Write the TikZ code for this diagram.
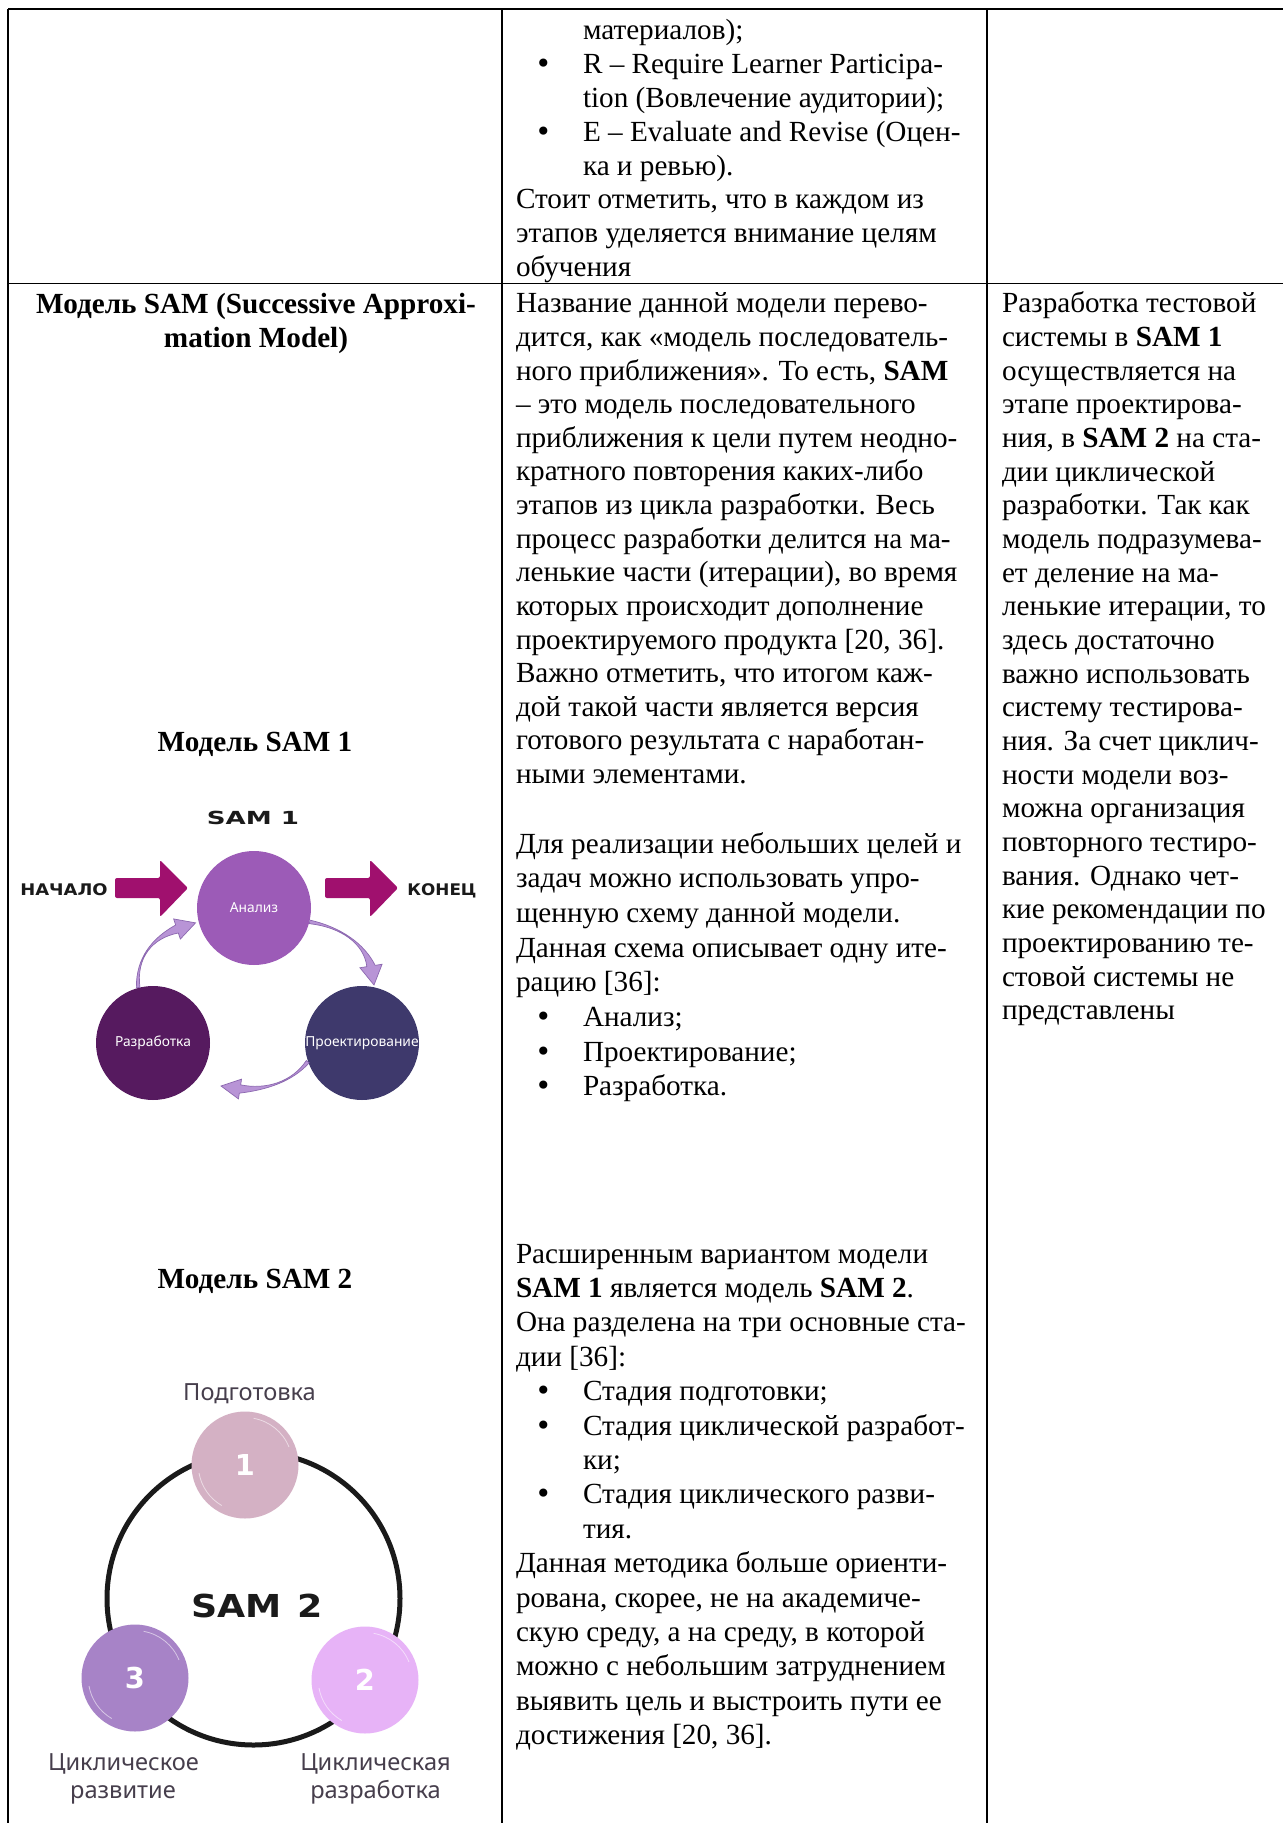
\documentclass[tikz,border=0pt]{standalone}
\usepackage{fontspec}
\usepackage{graphicx}
\setmainfont{Liberation Serif}
\newfontfamily\blockfont{DejaVu Sans}
\newfontfamily\roundfont{Noto Sans}
\usetikzlibrary{calc}

\definecolor{ink}{HTML}{1A1A1A}
\definecolor{arrowmag}{HTML}{A0106E}
\definecolor{anal}{HTML}{9C5BB7}
\definecolor{design}{HTML}{3E396C}
\definecolor{devel}{HTML}{561A5F}
\definecolor{cyclefill}{HTML}{B894D6}
\definecolor{cycleedge}{HTML}{8C68B0}
\definecolor{prep}{HTML}{D4B1C4}
\definecolor{cycdev}{HTML}{E7B3F7}
\definecolor{cycgrow}{HTML}{A783C7}
\definecolor{lbl}{HTML}{463E4C}

% body text size and list helpers
\newcommand\bodysize{\fontsize{14.6pt}{16.8pt}\selectfont}
\newcommand\blt{\makebox[33.5pt][l]{\hspace*{9.5pt}{\blockfont\fontsize{14pt}{14pt}\selectfont\textbullet}}}
\newcommand\ind{\hspace*{33.5pt}}

% tapered curved arrow: tail, control 1, control 2, head base, tip, half shaft, half head
\newcommand\taperarrow[7]{%
  \path[cyclearrow]
    ($(#1)!0.9pt!90:(#2)$) .. controls (#2) and (#3) .. ($(#4)!#6!90:(#5)$)
    -- ($(#4)!#7!90:(#5)$) -- (#5) -- ($(#4)!#7!-90:(#5)$) -- ($(#4)!#6!-90:(#5)$)
    .. controls (#3) and (#2) .. ($(#1)!0.9pt!-90:(#2)$) -- cycle;
}

\begin{document}
\begin{tikzpicture}[x=0.5pt,y=-0.5pt,
  rule/.style={line width=0.9pt, draw=black},
  txt/.style={anchor=base west, inner sep=0pt, outer sep=0pt, font=\bodysize, text=black},
  head/.style={anchor=base, inner sep=0pt, font=\bodysize\bfseries, text=black},
  blk/.style={anchor=base, inner sep=0pt, text=ink},
  phase/.style={circle, inner sep=0pt, minimum size=57pt, text=white,
    font=\roundfont\fontsize{6.9pt}{8pt}\selectfont},
  magarrow/.style={fill=arrowmag, rounded corners=1pt},
  cyclearrow/.style={fill=cyclefill, draw=cycleedge, line width=0.35pt},
  stage/.style={circle, inner sep=0pt, minimum size=53.5pt, text=white,
    font=\blockfont\bfseries\fontsize{14.4pt}{16pt}\selectfont},
  brush/.style={draw=white, opacity=0.55, line width=0.4pt},
  stagelbl/.style={anchor=base, inner sep=0pt, text=lbl,
    font=\roundfont\fontsize{11.8pt}{14pt}\selectfont},
  ring/.style={circle, draw=ink, line width=2.5pt, minimum size=146.5pt, inner sep=0pt},
]
\useasboundingbox (0,0) rectangle (1283,1823);
\fill[white] (0,0) rectangle (1283,1823);

% ---------- table rules ----------
\draw[rule] (8,9) -- (1283,9);
\draw[rule] (8,283.5) -- (1283,283.5);
\draw[rule] (8,9) -- (8,1823);
\draw[rule] (502,9) -- (502,1823);
\draw[rule] (987,9) -- (987,1823);

% ---------- upper row, middle column ----------
\foreach \linetext [count=\idx from 0] in {
  {\ind материалов);},
  {\blt R – Require Learner Participa-},
  {\ind tion (Вовлечение аудитории);},
  {\blt E – Evaluate and Revise (Оцен-},
  {\ind ка и ревью).},
  {Стоит отметить, что в каждом из},
  {этапов уделяется внимание целям},
  {обучения}}
  {\node[txt] (top-\idx) at (516, 40+33.8*\idx) {\linetext};}

% ---------- SAM row: left column headings ----------
\node[head] (h1) at (256,314) {Модель SAM (Successive Approxi-};
\node[head] (h2) at (256,348) {mation Model)};
\node[head] (h3) at (255,751) {Модель SAM 1};
\node[head] (h4) at (255,1288) {Модель SAM 2};

% ---------- SAM row: middle column ----------
\foreach \linetext [count=\idx from 0] in {
  {Название данной модели перево-},
  {дится, как «модель последователь-},
  {ного приближения». То есть, \textbf{SAM}},
  {– это модель последовательного},
  {приближения к цели путем неодно-},
  {кратного повторения каких-либо},
  {этапов из цикла разработки. Весь},
  {процесс разработки делится на ма-},
  {ленькие части (итерации), во время},
  {которых происходит дополнение},
  {проектируемого продукта [20, 36].},
  {Важно отметить, что итогом каж-},
  {дой такой части является версия},
  {готового результата с наработан-},
  {ными элементами.}}
  {\node[txt] (pa-\idx) at (516, 313+33.6*\idx) {\linetext};}

\foreach \linetext [count=\idx from 0] in {
  {Для реализации небольших целей и},
  {задач можно использовать упро-},
  {щенную схему данной модели.},
  {Данная схема описывает одну ите-},
  {рацию [36]:},
  {\blt Анализ;},
  {\blt Проектирование;},
  {\blt Разработка.}}
  {\node[txt] (pb-\idx) at (516, 853+34.7*\idx) {\linetext};}

\foreach \linetext [count=\idx from 0] in {
  {Расширенным вариантом модели},
  {\textbf{SAM 1} является модель \textbf{SAM 2}.},
  {Она разделена на три основные ста-},
  {дии [36]:},
  {\blt Стадия подготовки;},
  {\blt Стадия циклической разработ-},
  {\ind ки;},
  {\blt Стадия циклического разви-},
  {\ind тия.},
  {Данная методика больше ориенти-},
  {рована, скорее, не на академиче-},
  {скую среду, а на среду, в которой},
  {можно с небольшим затруднением},
  {выявить цель и выстроить пути ее},
  {достижения [20, 36].}}
  {\node[txt] (pc-\idx) at (516, 1263+34.4*\idx) {\linetext};}

% ---------- SAM row: right column ----------
\foreach \linetext [count=\idx from 0] in {
  {Разработка тестовой},
  {системы в \textbf{SAM 1}},
  {осуществляется на},
  {этапе проектирова-},
  {ния, в \textbf{SAM 2} на ста-},
  {дии циклической},
  {разработки. Так как},
  {модель подразумева-},
  {ет деление на ма-},
  {ленькие итерации, то},
  {здесь достаточно},
  {важно использовать},
  {систему тестирова-},
  {ния. За счет циклич-},
  {ности модели воз-},
  {можна организация},
  {повторного тестиро-},
  {вания. Однако чет-},
  {кие рекомендации по},
  {проектированию те-},
  {стовой системы не},
  {представлены}}
  {\node[txt] (pr-\idx) at (1002, 313+33.66*\idx) {\linetext};}

% ---------- SAM 1 cycle ----------
\node[blk, font=\blockfont\bfseries\fontsize{9pt}{10pt}\selectfont] (samone) at (253,824)
  {\scalebox{1.45}[1]{SAM 1}};
\node[blk, font=\blockfont\bfseries\fontsize{8pt}{9pt}\selectfont] (beg) at (64,895)
  {\scalebox{1.12}[1]{НАЧАЛО}};
\node[blk, font=\blockfont\bfseries\fontsize{8pt}{9pt}\selectfont] (fin) at (442,895)
  {\scalebox{1.05}[1]{КОНЕЦ}};

\path[magarrow] (115,878) -- (160,878) -- (160,860) -- (188,888) -- (160,917)
  -- (160,898) -- (115,898) -- cycle;
\path[magarrow] (325,878) -- (370,878) -- (370,860) -- (398,888) -- (370,917)
  -- (370,898) -- (325,898) -- cycle;

\node[phase, fill=anal] (an) at (254,908) {Анализ};
\node[phase, fill=design] (prj) at (362,1043) {Проектирование};
\node[phase, fill=devel] (dev) at (153,1043) {Разработка};

% development -> analysis
\coordinate (aT) at (dev.105);
\coordinate (aA) at (136,958);
\coordinate (aB) at (152,938);
\coordinate (aH) at (177,929);
\coordinate (aP) at ($(an.195)+(-3,0)$);
\taperarrow{aT}{aA}{aB}{aH}{aP}{2.1pt}{5.3pt}
% analysis -> design
\coordinate (bT) at (an.346);
\coordinate (bA) at (340,927);
\coordinate (bB) at (364,943);
\coordinate (bH) at (371,966);
\coordinate (bP) at (374,985);
\taperarrow{bT}{bA}{bB}{bH}{bP}{2.1pt}{5.6pt}
% design -> development
\coordinate (cT) at (prj.199);
\coordinate (cA) at (292,1082);
\coordinate (cB) at (266,1090);
\coordinate (cH) at (240,1089);
\coordinate (cP) at (221,1086);
\taperarrow{cT}{cA}{cB}{cH}{cP}{2.1pt}{5pt}

% ---------- SAM 2 cycle ----------
\node[ring] (ring) at (253.5,1598.5) {};
\node[stage, fill=prep] (s1) at (245,1465) {1};
\node[stage, fill=cycdev] (s2) at (365,1680) {2};
\node[stage, fill=cycgrow] (s3) at (135,1678) {3};
\foreach \s in {s1,s2,s3}{
  \draw[brush] ($(\s.center)+(44,-18)$) arc[start angle=-22, end angle=-80, radius=47];
  \draw[brush] ($(\s.center)+(-46,8)$) arc[start angle=170, end angle=120, radius=47];
}
\node[blk, font=\blockfont\bfseries\fontsize{15.8pt}{17pt}\selectfont] (samtwo) at (257,1617)
  {\scalebox{1.15}[1]{SAM\hspace{7pt}2}};

\node[stagelbl] (l1) at (249.5,1400) {Подготовка};
\node[stagelbl] (l2a) at (375.5,1770) {Циклическая};
\node[stagelbl] (l2b) at (375.5,1798) {разработка};
\node[stagelbl] (l3a) at (123.5,1770) {Циклическое};
\node[stagelbl] (l3b) at (123,1798) {развитие};
\end{tikzpicture}
\end{document}
